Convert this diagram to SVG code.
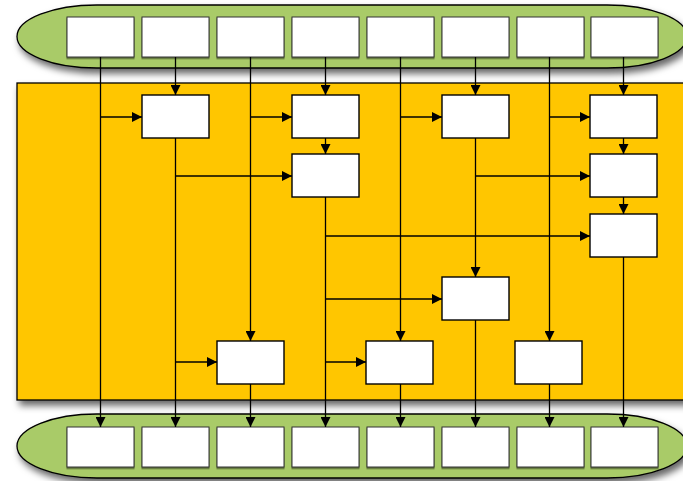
<svg xmlns="http://www.w3.org/2000/svg" width="683" height="481" viewBox="0 0 683 481">
<defs>
<filter id="sh" x="-10%" y="-20%" width="130%" height="160%">
<feDropShadow dx="3" dy="5" stdDeviation="3.5" flood-color="#000" flood-opacity="0.6"/>
</filter>
<filter id="csh" x="-10%" y="-20%" width="130%" height="160%">
<feDropShadow dx="0" dy="1.5" stdDeviation="0.6" flood-color="#000" flood-opacity="0.5"/>
</filter>
<marker id="ah" viewBox="0 0 10 10" refX="10" refY="5" markerWidth="11" markerHeight="10" markerUnits="userSpaceOnUse" orient="auto">
<path d="M0,0 L10,5 L0,10 Z" fill="#000"/>
</marker>
</defs>
<style>
.pill{fill:#A9CB67;stroke:#000;stroke-width:1.3}
.cell{fill:#fff;stroke:#333;stroke-width:1}
.cont{fill:#FFC600;stroke:#000;stroke-width:1.3}
.node{fill:#fff;stroke:#000;stroke-width:1.4}
.conn path{fill:none;stroke:#000;stroke-width:1.3;marker-end:url(#ah)}
</style>

<g id="top-bar">
<rect class="pill" x="17" y="5" width="670" height="63" rx="80" ry="31.5" filter="url(#sh)"/>
<g filter="url(#csh)">
<rect class="cell" x="67" y="17" width="67" height="40"/>
<rect class="cell" x="142" y="17" width="67" height="40"/>
<rect class="cell" x="217" y="17" width="67" height="40"/>
<rect class="cell" x="292" y="17" width="67" height="40"/>
<rect class="cell" x="367" y="17" width="67" height="40"/>
<rect class="cell" x="442" y="17" width="67" height="40"/>
<rect class="cell" x="517" y="17" width="67" height="40"/>
<rect class="cell" x="591" y="17" width="67" height="40"/>
</g>
</g>

<g id="container">
<rect class="cont" x="17" y="83" width="680" height="317" filter="url(#sh)"/>
</g>

<g id="bottom-bar">
<rect class="pill" x="17" y="414" width="670" height="64" rx="80" ry="32" filter="url(#sh)"/>
<g filter="url(#csh)">
<rect class="cell" x="67" y="427" width="67" height="40"/>
<rect class="cell" x="142" y="427" width="67" height="40"/>
<rect class="cell" x="217" y="427" width="67" height="40"/>
<rect class="cell" x="292" y="427" width="67" height="40"/>
<rect class="cell" x="367" y="427" width="67" height="40"/>
<rect class="cell" x="442" y="427" width="67" height="40"/>
<rect class="cell" x="517" y="427" width="67" height="40"/>
<rect class="cell" x="591" y="427" width="67" height="40"/>
</g>
</g>

<g id="connectors" class="conn">
<path d="M100.5 57 V427"/>
<path d="M100.5 117 H142"/>
<path d="M175.5 57 V95"/>
<path d="M175.5 138 V427"/>
<path d="M175.5 176 H292"/>
<path d="M175.5 362 H217"/>
<path d="M250.5 57 V341"/>
<path d="M250.5 117 H292"/>
<path d="M250.5 384 V427"/>
<path d="M325.5 57 V95"/>
<path d="M325.5 138 V154"/>
<path d="M325.5 197 V427"/>
<path d="M325.5 236 H590"/>
<path d="M325.5 299 H442"/>
<path d="M325.5 362 H366"/>
<path d="M400.5 57 V341"/>
<path d="M400.5 117 H442"/>
<path d="M400.5 384 V427"/>
<path d="M475.5 57 V95"/>
<path d="M475.5 138 V277"/>
<path d="M475.5 176 H590"/>
<path d="M475.5 320 V427"/>
<path d="M549.5 57 V341"/>
<path d="M549.5 117 H590"/>
<path d="M549.5 384 V427"/>
<path d="M623.5 57 V95"/>
<path d="M623.5 138 V154"/>
<path d="M623.5 197 V214"/>
<path d="M623.5 257 V427"/>
</g>

<g id="node-a"><rect class="node" x="142" y="95" width="67" height="43"/></g>
<g id="node-b"><rect class="node" x="292" y="95" width="67" height="43"/></g>
<g id="node-c"><rect class="node" x="442" y="95" width="67" height="43"/></g>
<g id="node-d"><rect class="node" x="590" y="95" width="67" height="43"/></g>
<g id="node-e"><rect class="node" x="292" y="154" width="67" height="43"/></g>
<g id="node-f"><rect class="node" x="590" y="154" width="67" height="43"/></g>
<g id="node-g"><rect class="node" x="590" y="214" width="67" height="43"/></g>
<g id="node-h"><rect class="node" x="442" y="277" width="67" height="43"/></g>
<g id="node-i"><rect class="node" x="217" y="341" width="67" height="43"/></g>
<g id="node-j"><rect class="node" x="366" y="341" width="67" height="43"/></g>
<g id="node-k"><rect class="node" x="515" y="341" width="67" height="43"/></g>
</svg>
